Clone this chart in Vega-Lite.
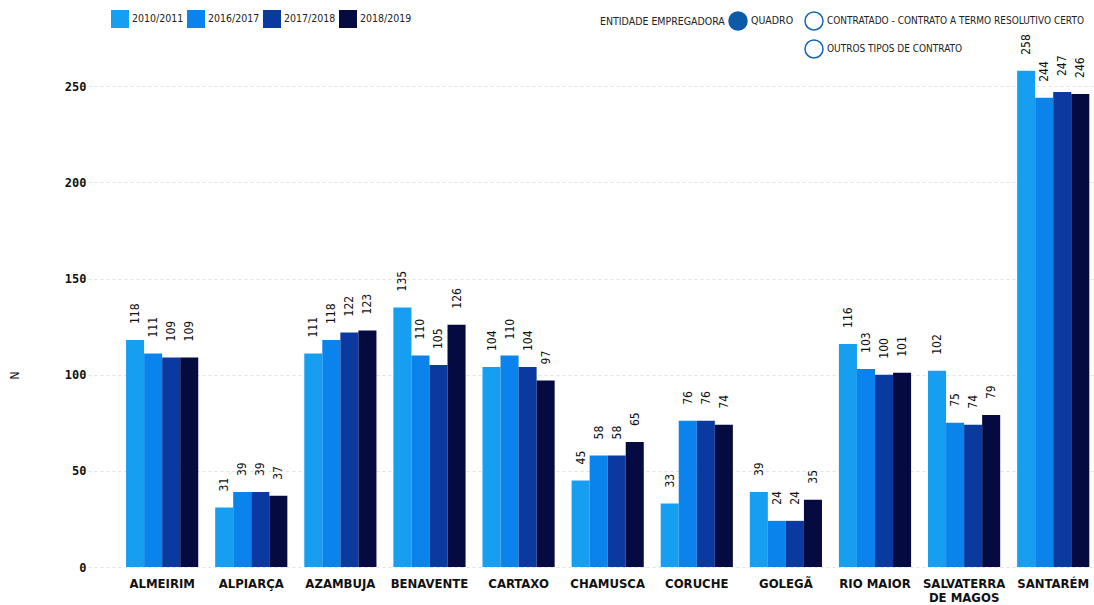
{
  "$schema": "https://vega.github.io/schema/vega-lite/v6.json",
  "width": 1006,
  "height": 500,
  "autosize": {"type": "none"},
  "padding": {"left": 88, "top": 67, "right": 0, "bottom": 38},
  "background": "white",
  "config": {
    "view": {"stroke": null},
    "font": "DejaVu Sans Condensed, Roboto Condensed, Roboto, sans-serif",
    "legend": {"padding": 0}
  },
  "datasets": {
    "docentes": [
      {"municipio": "ALMEIRIM", "ano": "2010/2011", "valor": 118},
      {"municipio": "ALMEIRIM", "ano": "2016/2017", "valor": 111},
      {"municipio": "ALMEIRIM", "ano": "2017/2018", "valor": 109},
      {"municipio": "ALMEIRIM", "ano": "2018/2019", "valor": 109},
      {"municipio": "ALPIARÇA", "ano": "2010/2011", "valor": 31},
      {"municipio": "ALPIARÇA", "ano": "2016/2017", "valor": 39},
      {"municipio": "ALPIARÇA", "ano": "2017/2018", "valor": 39},
      {"municipio": "ALPIARÇA", "ano": "2018/2019", "valor": 37},
      {"municipio": "AZAMBUJA", "ano": "2010/2011", "valor": 111},
      {"municipio": "AZAMBUJA", "ano": "2016/2017", "valor": 118},
      {"municipio": "AZAMBUJA", "ano": "2017/2018", "valor": 122},
      {"municipio": "AZAMBUJA", "ano": "2018/2019", "valor": 123},
      {"municipio": "BENAVENTE", "ano": "2010/2011", "valor": 135},
      {"municipio": "BENAVENTE", "ano": "2016/2017", "valor": 110},
      {"municipio": "BENAVENTE", "ano": "2017/2018", "valor": 105},
      {"municipio": "BENAVENTE", "ano": "2018/2019", "valor": 126},
      {"municipio": "CARTAXO", "ano": "2010/2011", "valor": 104},
      {"municipio": "CARTAXO", "ano": "2016/2017", "valor": 110},
      {"municipio": "CARTAXO", "ano": "2017/2018", "valor": 104},
      {"municipio": "CARTAXO", "ano": "2018/2019", "valor": 97},
      {"municipio": "CHAMUSCA", "ano": "2010/2011", "valor": 45},
      {"municipio": "CHAMUSCA", "ano": "2016/2017", "valor": 58},
      {"municipio": "CHAMUSCA", "ano": "2017/2018", "valor": 58},
      {"municipio": "CHAMUSCA", "ano": "2018/2019", "valor": 65},
      {"municipio": "CORUCHE", "ano": "2010/2011", "valor": 33},
      {"municipio": "CORUCHE", "ano": "2016/2017", "valor": 76},
      {"municipio": "CORUCHE", "ano": "2017/2018", "valor": 76},
      {"municipio": "CORUCHE", "ano": "2018/2019", "valor": 74},
      {"municipio": "GOLEGÃ", "ano": "2010/2011", "valor": 39},
      {"municipio": "GOLEGÃ", "ano": "2016/2017", "valor": 24},
      {"municipio": "GOLEGÃ", "ano": "2017/2018", "valor": 24},
      {"municipio": "GOLEGÃ", "ano": "2018/2019", "valor": 35},
      {"municipio": "RIO MAIOR", "ano": "2010/2011", "valor": 116},
      {"municipio": "RIO MAIOR", "ano": "2016/2017", "valor": 103},
      {"municipio": "RIO MAIOR", "ano": "2017/2018", "valor": 100},
      {"municipio": "RIO MAIOR", "ano": "2018/2019", "valor": 101},
      {"municipio": "SALVATERRA DE MAGOS", "ano": "2010/2011", "valor": 102},
      {"municipio": "SALVATERRA DE MAGOS", "ano": "2016/2017", "valor": 75},
      {"municipio": "SALVATERRA DE MAGOS", "ano": "2017/2018", "valor": 74},
      {"municipio": "SALVATERRA DE MAGOS", "ano": "2018/2019", "valor": 79},
      {"municipio": "SANTARÉM", "ano": "2010/2011", "valor": 258},
      {"municipio": "SANTARÉM", "ano": "2016/2017", "valor": 244},
      {"municipio": "SANTARÉM", "ano": "2017/2018", "valor": 247},
      {"municipio": "SANTARÉM", "ano": "2018/2019", "valor": 246}
    ]
  },
  "layer": [
    {
      "data": {"name": "docentes"},
      "mark": {"type": "bar"},
      "encoding": {
        "x": {
          "field": "municipio", "type": "nominal", "sort": null,
          "scale": {"paddingInner": 0.19, "paddingOuter": 0.24, "align": 0.89},
          "axis": {
            "title": null, "domain": false, "ticks": false, "labelAngle": 0,
            "labelPadding": 10, "labelFontWeight": "bold",
            "labelFontSize": 13, "labelColor": "#111111", "labelLineHeight": 14,
            "labelExpr": "datum.value == 'SALVATERRA DE MAGOS' ? ['SALVATERRA', 'DE MAGOS'] : datum.value"
          }
        },
        "xOffset": {"field": "ano", "type": "nominal", "sort": null, "scale": {"paddingInner": 0}},
        "y": {
          "field": "valor", "type": "quantitative",
          "scale": {"domain": [0, 260], "nice": false},
          "axis": {
            "title": "N", "values": [0, 50, 100, 150, 200, 250],
            "domain": false, "ticks": false, "labelPadding": 2,
            "labelFont": "DejaVu Sans Mono", "labelFontWeight": "bold", "labelFontSize": 12,
            "labelColor": "#111111",
            "grid": true, "gridColor": "#e2e2e2", "gridDash": [3, 3], "gridWidth": 1,
            "titleFontWeight": "normal", "titleFontSize": 12,
            "titleColor": "#111111", "titleAngle": 270, "titleAlign": "center", "titleBaseline": "middle",
            "titleX": -74, "titleY": 308
          }
        },
        "color": {
          "field": "ano", "type": "nominal",
          "scale": {
            "domain": ["2010/2011", "2016/2017", "2017/2018", "2018/2019"],
            "range": ["#169ff0", "#0a83ec", "#0a3aa0", "#050b40"]
          },
          "legend": {
            "title": null, "orient": "none", "direction": "horizontal",
            "legendX": 23, "legendY": -57,
            "symbolType": "square", "symbolSize": 324, "symbolStrokeWidth": 0,
            "labelFontSize": 10.5, "labelColor": "#222222",
            "labelOffset": 3, "columnPadding": 3
          }
        }
      }
    },
    {
      "data": {"name": "docentes"},
      "mark": {"type": "text", "angle": 270, "align": "left", "baseline": "middle", "dx": 16,
               "fontSize": 12, "color": "#111111"},
      "encoding": {
        "x": {"field": "municipio", "type": "nominal", "sort": null},
        "xOffset": {"field": "ano", "type": "nominal", "sort": null},
        "y": {"field": "valor", "type": "quantitative"},
        "text": {"field": "valor", "type": "quantitative"}
      }
    },
    {
      "data": {"values": []},
      "mark": {"type": "point", "filled": true, "opacity": 1, "stroke": "#0d5ba6", "strokeWidth": 1},
      "encoding": {
        "fill": {
          "field": "entidade", "type": "nominal",
          "scale": {"domain": ["QUADRO"], "range": ["#0d5ba6"]},
          "legend": {
            "title": "ENTIDADE EMPREGADORA", "titleOrient": "left", "orient": "none",
            "legendX": 512, "legendY": -56,
            "titleFontSize": 10.5, "titleFontWeight": "normal",
            "titleColor": "#222222", "titlePadding": 3, "titleBaseline": "middle",
            "symbolType": "circle", "symbolSize": 324, "symbolOpacity": 1,
            "labelFontSize": 10.5, "labelColor": "#222222",
            "labelOffset": 3
          }
        }
      }
    },
    {
      "data": {"values": []},
      "mark": {"type": "point", "filled": false, "opacity": 1, "color": "#1565b5", "strokeWidth": 1.5},
      "encoding": {
        "shape": {
          "field": "entidade", "type": "nominal",
          "scale": {
            "domain": ["CONTRATADO - CONTRATO A TERMO RESOLUTIVO CERTO", "OUTROS TIPOS DE CONTRATO"],
            "range": ["circle", "circle"]
          },
          "legend": {
            "title": null, "orient": "none", "direction": "vertical",
            "legendX": 716, "legendY": -56,
            "symbolSize": 324, "symbolStrokeColor": "#1565b5", "symbolStrokeWidth": 1.5,
            "rowPadding": 4, "labelLimit": 400,
            "labelFontSize": 10, "labelColor": "#222222",
            "labelOffset": 3
          }
        }
      }
    }
  ],
  "resolve": {"scale": {"color": "independent"}}
}
